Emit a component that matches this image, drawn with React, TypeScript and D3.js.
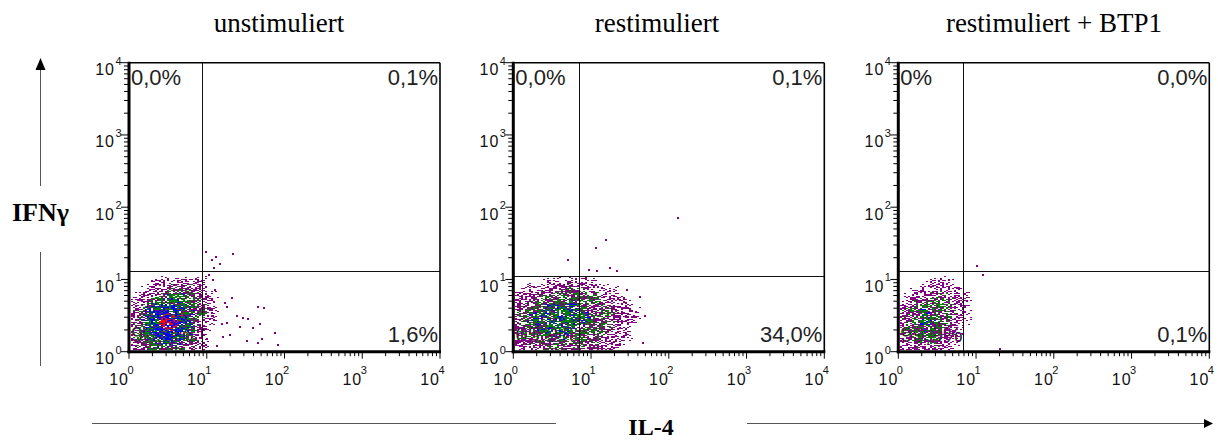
import React, { useMemo } from 'react';
import * as d3 from 'd3';

// ---- data ---------------------------------------------------------------
const PANEL_TITLES = ['unstimuliert', 'restimuliert', 'restimuliert + BTP1'];
const TICK_EXPONENTS = [0, 1, 2, 3, 4];

// quadrant gates (IL-4 threshold, IFNγ threshold)
const GATE_IL4 = [8.7, 6.9, 6.7];
const GATE_IFNG = [13.2, 11.2, 13.1];

// quadrant percentages
const Q_UPPER_LEFT = ['0,0%', '0,0%', '0%'];
const Q_UPPER_RIGHT = ['0,1%', '0,1%', '0,0%'];
const Q_LOWER_RIGHT = ['1,6%', '34,0%', '0,1%'];
const Q_LOWER_LEFT = ['98,3%', '65,9%', '99,9%'];

// event density per 0.1-decade bin (IL-4 columns from 10^0, IFNγ rows listed
// from 10^1 down to 10^0); 0 empty … 5 highest density
const DENSITY_UNSTIM = [
  '00011111110',
  '00111222110',
  '01122332211',
  '11233433211',
  '12344443221',
  '12345543211',
  '12345543210',
  '12344443210',
  '12233332210',
  '11222221110',
];
const DENSITY_RESTIM = [
  '00001111111000000',
  '01111122211110000',
  '11122222222111000',
  '11223323222211100',
  '12233333322221110',
  '12333333332221110',
  '12233333222221100',
  '12223232222211100',
  '11222222222111000',
  '11112221211111000',
];
const DENSITY_BTP1 = [
  '000011100',
  '001111110',
  '011122111',
  '112222211',
  '122322211',
  '122332211',
  '122322110',
  '122222110',
  '112121110',
  '111111100',
];

// isolated events outside the main population
const EVENTS_UNSTIM_IL4 = [9.8, 11.6, 13.1, 21.6, 14.8, 12.4, 10.6, 11.9, 12.8, 10, 17.1, 20.9, 18, 11, 12.1, 15.5, 18, 24.3, 29.6, 26.8, 34.3, 39.8, 46, 55, 48, 51, 75, 83, 13.4, 16.3, 19.9, 32.6, 46, 10];
const EVENTS_UNSTIM_IFNG = [24, 18.3, 20.4, 22.7, 16.3, 14.4, 11.6, 9.9, 7.2, 5.8, 4.7, 5.5, 4.2, 3.8, 3.1, 2.4, 2.5, 3.1, 2.9, 2.2, 2.8, 2.1, 4.2, 4.0, 2.4, 1.5, 1.8, 1.25, 1.2, 1.6, 1.7, 1.4, 1.3, 1.5];
const EVENTS_RESTIM_IL4 = [132, 15.8, 11.5, 5.1, 17.3, 21.3, 9.4, 12, 43, 50, 46, 29, 32];
const EVENTS_RESTIM_IFNG = [72, 35.5, 27, 18.7, 14.4, 12.9, 13.4, 12.9, 5.8, 3.1, 1.3, 7.2, 3.8];
const EVENTS_BTP1_IL4 = [10.3, 12.2, 20.5];
const EVENTS_BTP1_IFNG = [15.5, 11.6, 1.1];

const DENSITIES = [DENSITY_UNSTIM, DENSITY_RESTIM, DENSITY_BTP1];
const EVENTS_IL4 = [EVENTS_UNSTIM_IL4, EVENTS_RESTIM_IL4, EVENTS_BTP1_IL4];
const EVENTS_IFNG = [EVENTS_UNSTIM_IFNG, EVENTS_RESTIM_IFNG, EVENTS_BTP1_IFNG];

// ---- layout & style -----------------------------------------------------
const W = 1218;
const H = 441;
const PANEL_X0 = [129, 513.3, 898.3];
const PLOT_W = 311;
const PLOT_TOP = 62.7;
const PLOT_BOTTOM = 351.7;
const TITLE_X = [279, 657, 1054];

const SANS = "'Liberation Sans', Arial, sans-serif";
const SERIF = "'Liberation Serif', 'Times New Roman', serif";

const DOT_COLORS = ['#800080', '#008000', '#0000ff', '#ff0000'];
// fraction of pixels lit per density level, and colour mix per level
const LEVEL_COVER = [0, 0.46, 0.7, 0.84, 0.9, 0.93];
const LEVEL_MIX = [
  [0, 0, 0, 0],
  [1, 0, 0, 0],
  [0.55, 0.45, 0, 0],
  [0.15, 0.6, 0.25, 0],
  [0.05, 0.3, 0.6, 0.05],
  [0, 0.05, 0.35, 0.6],
];

// deterministic dither threshold in [0,1) for a pixel
function dither(x: number, y: number, s: number) {
  let h = (Math.imul(x, 374761393) + Math.imul(y, 668265263) + Math.imul(s, 1442695041)) | 0;
  h = Math.imul(h ^ (h >>> 13), 1274126177);
  h ^= h >>> 16;
  return (h >>> 0) / 4294967296;
}

function densityPaths(grid: string[], xs: d3.ScaleLogarithmic<number, number>, ys: d3.ScaleLogarithmic<number, number>, seed: number) {
  const rows = grid.length;
  const cols = grid[0].length;
  const paths = ['', '', '', ''];
  const xStart = Math.ceil(xs(1) + 1.5);
  const xEnd = Math.ceil(xs(Math.pow(10, cols / 10)) + 5);
  const yStart = Math.floor(ys(Math.pow(10, rows / 10)) - 5);
  const yEnd = Math.floor(ys(1) - 1.5);
  for (let py = yStart; py < yEnd; py++) {
    for (let px = xStart; px < xEnd; px += 2) {
      const jx = (dither(px + 101, py, seed) - 0.5) * 8;
      const jy = (dither(px, py + 211, seed) - 0.5) * 8;
      const lx = Math.log10(xs.invert(Math.max(xs(1) + 0.1, px + 1 + jx)));
      const ly = Math.log10(ys.invert(Math.min(ys(1) - 0.1, py + 0.5 + jy)));
      const i = Math.max(0, Math.floor(lx * 10));
      const j = Math.max(0, Math.floor(ly * 10));
      if (i >= cols || j >= rows) continue;
      const level = +grid[rows - 1 - j][i];
      if (!level) continue;
      if (dither(px, py, seed) >= LEVEL_COVER[level]) continue;
      const c = dither(px + 7, py + 13, seed + 3);
      const mix = LEVEL_MIX[level];
      let acc = 0;
      let k = 0;
      for (; k < 4; k++) {
        acc += mix[k];
        if (c < acc) break;
      }
      if (k > 3) k = 3;
      paths[k] += `M${px},${py}h2v1h-2z`;
    }
  }
  return paths;
}

function Panel({ idx }: { idx: number }) {
  const x0 = PANEL_X0[idx];
  const xs = d3.scaleLog().domain([1, 1e4]).range([x0, x0 + PLOT_W]);
  const ys = d3.scaleLog().domain([1, 1e4]).range([PLOT_BOTTOM, PLOT_TOP]);
  const paths = useMemo(() => densityPaths(DENSITIES[idx], xs, ys, idx + 1), [idx]);
  const minor: number[] = [];
  for (let d = 0; d < 4; d++) for (let k = 2; k <= 9; k++) minor.push(k * Math.pow(10, d));
  const gx = Math.round(xs(GATE_IL4[idx])) + 0.5;
  const gy = Math.round(ys(GATE_IFNG[idx])) + 0.5;
  const xR = x0 + PLOT_W;
  return (
    <g>
      <clipPath id={`plot-${idx}`}>
        <rect x={x0} y={PLOT_TOP} width={PLOT_W} height={PLOT_BOTTOM - PLOT_TOP} />
      </clipPath>
      <text x={TITLE_X[idx]} y={32} textAnchor="middle" fontFamily={SERIF} fontSize={27} fill="#000">
        {PANEL_TITLES[idx]}
      </text>

      {/* quadrant percentages */}
      <g fontFamily={SANS} fontSize={22} fill="#222">
        <text x={x0 + 2} y={PLOT_TOP + 22}>{Q_UPPER_LEFT[idx]}</text>
        <text x={xR - 2} y={PLOT_TOP + 22} textAnchor="end">{Q_UPPER_RIGHT[idx]}</text>
        <text x={xR - 2} y={PLOT_BOTTOM - 10} textAnchor="end">{Q_LOWER_RIGHT[idx]}</text>
        <text x={x0 + 2} y={PLOT_BOTTOM - 10}>{Q_LOWER_LEFT[idx]}</text>
      </g>

      {/* events */}
      <g clipPath={`url(#plot-${idx})`} shapeRendering="crispEdges">
        {paths.map((d, k) => (d ? <path key={k} d={d} fill={DOT_COLORS[k]} /> : null))}
        {EVENTS_IL4[idx].map((v, k) => (
          <rect key={k} x={Math.round(xs(v)) - 1} y={Math.round(ys(EVENTS_IFNG[idx][k])) - 1} width={2} height={2} fill={DOT_COLORS[0]} />
        ))}
      </g>

      {/* quadrant gate */}
      <g stroke="#111" strokeWidth={1.2} shapeRendering="crispEdges">
        <line x1={gx} x2={gx} y1={PLOT_TOP} y2={PLOT_BOTTOM} />
        <line x1={x0} x2={xR} y1={gy} y2={gy} />
      </g>

      {/* frame */}
      <g stroke="#000" fill="none">
        <line x1={x0} x2={xR} y1={PLOT_TOP} y2={PLOT_TOP} strokeWidth={1.6} />
        <line x1={xR} x2={xR} y1={PLOT_TOP} y2={PLOT_BOTTOM} strokeWidth={1.6} />
        <line x1={x0} x2={x0} y1={PLOT_TOP - 1} y2={PLOT_BOTTOM + 1.5} strokeWidth={3} />
        <line x1={x0 - 1.5} x2={xR + 1} y1={PLOT_BOTTOM} y2={PLOT_BOTTOM} strokeWidth={3} />
      </g>

      {/* ticks */}
      <g stroke="#000" strokeWidth={1}>
        {TICK_EXPONENTS.map((e) => (
          <line key={`ym${e}`} x1={x0 - 8} x2={x0} y1={ys(Math.pow(10, e))} y2={ys(Math.pow(10, e))} />
        ))}
        {minor.map((v) => (
          <line key={`yn${v}`} x1={x0 - 5} x2={x0} y1={ys(v)} y2={ys(v)} />
        ))}
        {TICK_EXPONENTS.map((e) => (
          <line key={`xm${e}`} x1={xs(Math.pow(10, e))} x2={xs(Math.pow(10, e))} y1={PLOT_BOTTOM} y2={PLOT_BOTTOM + 7} />
        ))}
        {minor.map((v) => (
          <line key={`xn${v}`} x1={xs(v)} x2={xs(v)} y1={PLOT_BOTTOM} y2={PLOT_BOTTOM + 4.5} />
        ))}
      </g>

      {/* tick labels */}
      <g fontFamily={SANS} fill="#111">
        {TICK_EXPONENTS.map((e) => {
          const y = ys(Math.pow(10, e));
          return (
            <g key={`yl${e}`}>
              <text x={x0 - 14} y={y + 12.5} textAnchor="end" fontSize={16} letterSpacing={1}>10</text>
              <text x={x0 - 13.5} y={y + 2} fontSize={11}>{e}</text>
            </g>
          );
        })}
        {TICK_EXPONENTS.map((e) => {
          const x = xs(Math.pow(10, e));
          return (
            <g key={`xl${e}`}>
              <text x={x} y={385} textAnchor="end" fontSize={16} letterSpacing={1}>10</text>
              <text x={x + 1.5} y={373.5} textAnchor="middle" fontSize={11}>{e}</text>
            </g>
          );
        })}
      </g>
    </g>
  );
}

export default function App() {
  return (
    <svg
      width={W}
      height={H}
      viewBox={`0 0 ${W} ${H}`}
      style={{ position: 'absolute', left: 0, top: 0, background: '#fff', display: 'block' }}
    >
      <rect width={W} height={H} fill="#fff" />
      {[0, 1, 2].map((i) => (
        <Panel key={i} idx={i} />
      ))}

      {/* IFNγ axis arrow */}
      <g stroke="#555" strokeWidth={1}>
        <line x1={40.5} x2={40.5} y1={68} y2={186} />
        <line x1={40.5} x2={40.5} y1={252} y2={366} />
      </g>
      <polygon points="40.5,58 35.5,70 45.5,70" fill="#000" />
      <text x={12} y={221} fontFamily={SERIF} fontWeight="bold" fontSize={26}>IFNγ</text>

      {/* IL-4 axis arrow */}
      <g stroke="#555" strokeWidth={1}>
        <line x1={92} x2={556} y1={423.5} y2={423.5} />
        <line x1={747} x2={1205} y1={423.5} y2={423.5} />
      </g>
      <polygon points="1213,423.5 1204,419 1204,428" fill="#000" />
      <text x={651} y={435} textAnchor="middle" fontFamily={SERIF} fontWeight="bold" fontSize={24}>IL-4</text>
    </svg>
  );
}
